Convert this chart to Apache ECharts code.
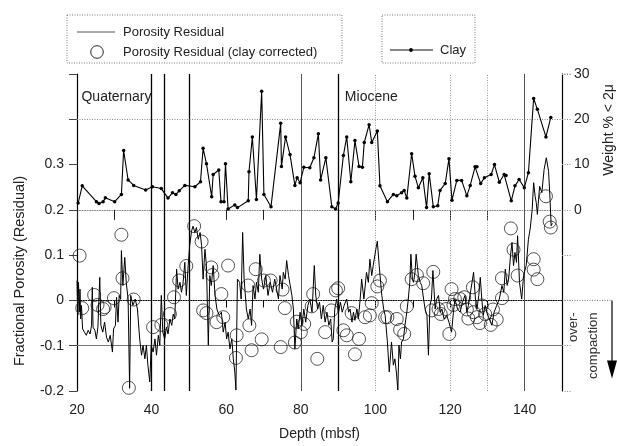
<!DOCTYPE html>
<html>
<head>
<meta charset="utf-8">
<script src="https://cdn.jsdelivr.net/npm/echarts@6/dist/echarts.min.js"></script>
<style>
html,body{margin:0;padding:0;background:#fff;}
#chart{width:617px;height:446px;}
</style>
</head>
<body>
<div id="chart"></div>
<script>
// ---- data (depth in mbsf) ----
const xTicks = [20, 40, 60, 80, 100, 120, 140];
const leftTicks = [-0.2, -0.1, 0, 0.1, 0.2, 0.3];
const rightTicks = [0, 10, 20, 30];
const boundaryDepths = [40, 43.3, 50, 90];
const greyDepths = [80, 140];
const dottedDepths = [100, 120, 130];
const gridLevels = [0.4, 0];
const solidLevels = [-0.1];
const seriesNames = ['Porosity Residual', 'Porosity Residual (clay corrected)', 'Clay'];

const porosityResidual = [
[20.0,0.044],[20.2,-0.033],[20.4,0.04],[20.6,-0.026],[20.8,0.025],[21.0,-0.041],[21.2,-0.011],[21.5,-0.063],
[22.0,-0.07],[22.5,-0.077],[23.0,-0.066],[23.5,-0.074],[23.9,-0.055],[24.1,0.029],[24.3,-0.059],[24.8,-0.066],
[25.2,-0.085],[25.6,-0.059],[26.1,0.051],[26.4,-0.055],[26.9,-0.07],[27.4,-0.048],[27.9,-0.081],[28.4,-0.092],
[28.9,-0.077],[29.5,-0.114],[29.8,-0.063],[30.3,-0.055],[30.6,0.007],[31.0,-0.048],[31.3,0.011],[31.7,0.003],
[31.9,0.11],[32.3,0.033],[32.8,0.095],[33.2,0.04],[33.7,0.003],[34.1,-0.194],[34.4,0.011],[35.0,-0.011],
[35.6,0.003],[36.2,-0.019],[36.8,-0.085],[37.3,-0.121],[37.7,-0.099],[38.2,-0.129],[38.6,-0.099],[39.0,-0.143],
[39.5,-0.18],[39.9,-0.099],[40.4,-0.114],[40.9,-0.085],[41.3,-0.121],[41.8,-0.077],[42.2,-0.099],[42.6,0.011],
[43.0,-0.07],[43.5,-0.085],[44.0,-0.059],[44.4,-0.074],[44.9,-0.041],[45.4,-0.055],[45.8,-0.03],[46.2,-0.041],
[46.7,0.069],[47.1,0.025],[47.6,0.04],[48.0,0.018],[48.4,0.036],[48.9,0.084],[49.3,0.011],[49.8,0.077],
[50.2,0.121],[50.7,0.153],[51.1,0.164],[51.6,0.15],[52.0,0.161],[52.5,0.135],[53.0,0.15],[53.4,0.121],
[53.8,0.047],[54.3,0.113],[54.7,0.077],[55.2,-0.099],[55.6,0.055],[56.0,0.033],[56.5,0.077],[57.0,0.011],
[57.5,-0.019],[58.1,-0.033],[58.7,-0.026],[59.2,-0.07],[59.7,-0.048],[60.1,-0.085],[60.5,-0.07],[61.0,-0.107],
[61.5,-0.085],[61.9,-0.129],[62.3,-0.158],[62.6,-0.198],[63.0,0.047],[63.6,0.04],[64.0,0.003],[64.4,0.15],
[64.8,0.047],[65.4,-0.019],[65.9,-0.041],[66.4,-0.019],[66.8,-0.055],[67.2,0.033],[67.7,0.003],[68.1,0.04],
[68.6,0.018],[69.0,0.102],[69.5,0.047],[70.0,0.025],[70.6,0.055],[71.2,0.011],[71.8,0.04],[72.4,0.018],
[73.0,0.047],[73.5,0.025],[74.0,0.003],[74.4,0.055],[75.0,0.025],[75.3,0.062],[75.8,0.047],[76.2,0.088],
[76.7,0.055],[77.1,0.055],[77.6,0.011],[78.0,-0.019],[78.4,-0.107],[78.9,-0.041],[79.3,-0.063],[79.8,-0.026],
[80.3,-0.055],[80.8,-0.019],[81.3,-0.048],[81.9,-0.011],[82.4,0.003],[83.0,-0.026],[83.6,0.077],[84.0,0.011],
[84.5,-0.019],[85.0,-0.004],[85.5,-0.041],[86.0,-0.011],[86.5,-0.048],[87.0,-0.026],[87.5,-0.055],[88.0,-0.041],
[88.4,-0.092],[88.7,-0.085],[89.1,-0.019],[89.6,0.003],[90.1,-0.026],[90.6,-0.004],[91.1,-0.026],[91.6,-0.011],
[92.3,0.003],[92.8,-0.026],[93.2,-0.019],[93.7,-0.048],[94.1,-0.026],[94.5,-0.044],[95.0,-0.019],[95.4,-0.041],
[95.9,0.003],[96.3,0.047],[96.9,0.003],[97.6,0.062],[98.1,0.04],[98.5,0.091],[99.0,0.055],[99.4,0.077],
[100.1,0.113],[100.5,0.131],[101.0,0.077],[101.7,0.011],[102.2,-0.019],[102.6,-0.033],[103.2,-0.092],[103.7,-0.158],
[104.3,-0.092],[104.8,-0.143],[105.2,-0.129],[105.6,-0.158],[106.0,-0.198],[106.3,-0.099],[106.7,-0.129],[107.0,-0.092],
[107.5,-0.085],[107.9,-0.055],[108.4,-0.026],[108.8,0.003],[109.2,0.04],[109.5,0.102],[109.9,0.047],[110.2,0.04],
[110.6,0.062],[110.9,0.102],[111.5,0.055],[112.0,0.04],[112.4,0.033],[112.9,0.003],[113.3,-0.019],[113.8,-0.033],
[114.2,-0.121],[114.6,-0.011],[115.0,0.003],[115.4,0.066],[116.0,-0.019],[116.4,0.003],[116.9,0.011],[117.4,-0.026],
[117.8,-0.019],[118.4,-0.041],[119.1,-0.033],[119.7,-0.048],[120.4,-0.07],[120.9,-0.026],[121.3,0.003],[122.0,-0.019],
[122.7,-0.026],[123.3,-0.004],[124.0,0.011],[124.5,-0.026],[124.9,-0.011],[125.6,0.025],[126.3,0.062],[126.8,0.003],
[127.2,-0.019],[127.7,0.011],[128.1,0.051],[128.5,0.003],[128.9,-0.033],[129.4,-0.011],[129.8,-0.026],[130.5,-0.041],
[131.2,-0.055],[131.8,-0.026],[132.5,-0.011],[133.2,0.003],[133.9,0.033],[134.4,0.018],[134.8,0.069],[135.3,0.033],
[135.7,0.047],[136.2,0.099],[136.6,0.128],[137.0,0.077],[137.4,0.106],[137.8,0.084],[138.1,0.143],[138.6,0.04],
[139.2,0.003],[139.7,0.055],[140.4,0.077],[141.0,0.135],[141.5,0.16],[142.0,0.2],[142.4,0.26],[142.8,0.23],
[143.1,0.216],[143.4,0.19],[144.0,0.252],[144.6,0.238],[145.2,0.289],[145.8,0.315],[146.4,0.285],[146.8,0.223],
[147.1,0.165],[147.4,0.17]
];

const porosityCorrected = [
[20.7,0.099],[21.4,-0.017],[24.6,0.012],[25.5,-0.01],[27.0,-0.019],[27.4,-0.015],[29.9,0.005],[31.9,0.145],
[32.2,0.049],[33.9,-0.193],[35.2,0.002],[40.4,-0.059],[42.6,-0.054],[44.9,-0.03],[46.0,0.007],[47.4,0.044],
[49.3,0.076],[51.4,0.164],[53.4,0.13],[53.8,-0.022],[54.7,-0.028],[56.0,0.073],[56.3,0.056],[57.4,-0.048],
[58.7,0.014],[59.2,-0.037],[60.5,0.077],[62.6,-0.127],[62.8,-0.077],[65.9,0.033],[66.2,-0.055],[66.8,-0.11],
[67.9,0.069],[69.5,-0.086],[70.1,0.044],[71.9,0.044],[74.6,-0.103],[75.1,0.024],[75.7,-0.017],[78.4,-0.093],
[78.9,-0.047],[80.0,-0.07],[80.9,-0.052],[82.9,-0.013],[83.3,0.014],[84.4,-0.129],[86.5,-0.07],[88.2,-0.022],
[89.4,0.022],[90.0,0.027],[91.4,-0.066],[92.3,-0.077],[93.6,-0.028],[94.5,-0.119],[95.6,-0.085],[97.2,-0.037],
[98.5,-0.033],[99.0,-0.006],[100.5,0.031],[101.2,0.044],[102.6,-0.037],[103.2,-0.037],[105.7,-0.041],[106.6,-0.065],
[107.7,-0.074],[108.4,-0.013],[109.7,0.047],[111.1,0.056],[112.8,0.038],[115.5,0.063],[115.1,-0.022],[116.9,-0.019],
[117.5,-0.03],[118.9,-0.019],[119.8,-0.074],[120.4,0.025],[120.9,-0.01],[121.3,0.003],[122.7,0.003],[123.8,0.007],
[124.5,-0.02],[124.9,-0.04],[126.1,0.029],[126.3,-0.026],[127.2,-0.037],[128.0,-0.05],[128.5,-0.011],[129.4,-0.03],
[130.9,-0.054],[131.5,-0.02],[132.5,-0.042],[133.9,0.005],[133.9,0.049],[136.3,0.159],[137.0,0.112],[138.1,0.055],
[142.4,0.091],[142.4,0.068],[143.4,0.047],[145.7,0.23],[146.7,0.174],[147.0,0.161]
];

const clay = [
[20.3,1.5],[21.4,5.3],[25.2,1.8],[25.9,1.4],[27.0,1.8],[27.6,2.7],[30.1,1.8],[31.9,3.4],
[32.5,13.1],[33.7,6.6],[35.2,5.4],[38.4,4.4],[40.2,5.1],[42.6,4.7],[44.4,2.6],[45.6,3.8],
[46.5,3.4],[47.4,4.2],[48.9,5.4],[51.6,5.1],[53.1,6.2],[53.8,13.6],[54.7,10.2],[56.1,2.9],
[56.5,7.8],[58.0,8.8],[58.6,1.8],[59.4,1.8],[59.8,10.2],[60.5,0.2],[62.3,1.1],[63.0,0.5],
[65.9,2.0],[66.1,8.4],[67.0,16.1],[68.1,2.3],[69.5,26.2],[70.1,3.4],[72.0,0.7],[74.6,19.1],
[74.8,9.6],[75.9,16.1],[77.1,12.2],[78.4,5.4],[79.0,7.1],[79.8,6.0],[80.8,9.4],[82.4,9.3],
[83.5,11.5],[84.7,16.8],[85.3,6.6],[86.7,11.5],[88.3,0.7],[89.3,0.2],[90.0,1.5],[91.4,12.0],
[92.3,16.1],[93.4,6.2],[94.5,15.3],[95.6,9.6],[96.5,9.4],[97.0,14.9],[98.3,18.8],[99.0,14.9],
[100.5,17.4],[101.2,5.3],[103.2,1.8],[104.8,3.4],[105.7,3.1],[107.0,3.8],[107.7,4.3],[108.4,2.6],
[109.7,12.4],[110.6,7.4],[111.5,4.9],[112.7,7.1],[113.7,0.5],[114.4,8.0],[115.5,0.7],[116.7,0.9],
[117.3,4.3],[118.7,5.8],[119.7,11.3],[120.5,2.1],[121.8,6.5],[123.1,6.5],[124.5,3.1],[125.4,5.4],
[126.7,9.5],[127.2,9.5],[128.2,5.8],[129.2,7.1],[131.0,7.8],[131.9,10.0],[133.2,6.1],[134.5,7.8],
[135.0,7.6],[136.4,2.0],[137.4,5.3],[138.5,6.7],[139.9,4.9],[141.0,8.2],[142.4,24.6],[143.4,22.2],
[145.7,16.1],[147.0,20.4]
];

// ---- chart ----
const FONT = '"Liberation Sans", Arial, Helvetica, sans-serif';
const chart = echarts.init(document.getElementById('chart'), null, {renderer: 'canvas'});

function mlLine(val, key, style) {
  return val.map(v => ({ [key]: v, lineStyle: style }));
}

const markData = []
  .concat(mlLine(boundaryDepths, 'xAxis', {color: '#000', width: 1.3, type: 'solid'}))
  .concat(mlLine(greyDepths, 'xAxis', {color: '#555', width: 1, type: 'solid'}))
  .concat(mlLine(dottedDepths, 'xAxis', {color: '#999', width: 1, type: [1, 1.5]}))
  .concat(mlLine(gridLevels, 'yAxis', {color: '#888', width: 1, type: [1, 1.5]}))
  .concat(mlLine(solidLevels, 'yAxis', {color: '#777', width: 1, type: 'solid'}));

const option = {
  animation: false,
  backgroundColor: '#fff',
  textStyle: {fontFamily: FONT},
  grid: {left: 77, right: 55, top: 74, bottom: 54, containLabel: false},
  xAxis: [
    {
      type: 'value', min: 20, max: 150, interval: 10, position: 'bottom',
      name: 'Depth (mbsf)', nameLocation: 'middle', nameGap: 36,
      nameTextStyle: {fontFamily: FONT, fontSize: 14, color: '#222'},
      axisLine: {lineStyle: {color: '#000', width: 1.2}},
      axisTick: {show: true, length: 7, lineStyle: {color: '#000'}},
      axisLabel: {
        margin: 12, fontSize: 14, color: '#222', fontFamily: FONT,
        formatter: v => (xTicks.indexOf(v) >= 0 ? String(v) : '')
      },
      splitLine: {show: false}
    },
    {
      type: 'value', min: 20, max: 150, interval: 10, position: 'top',
      axisLine: {show: true, lineStyle: {color: '#888', width: 1, type: [1, 1.5]}},
      axisTick: {show: true, inside: true, length: 10, lineStyle: {color: '#222'}},
      axisLabel: {show: false},
      splitLine: {show: false}
    }
  ],
  yAxis: [
    {
      type: 'value', min: -0.2, max: 0.5, interval: 0.1, position: 'left',
      axisLine: {show: true, lineStyle: {color: '#000', width: 1.2}},
      axisTick: {show: true, length: 8, lineStyle: {color: '#444'}},
      axisLabel: {
        margin: 13, fontSize: 14, color: '#222', fontFamily: FONT,
        formatter: v => {
          const r = Math.round(v * 10) / 10;
          return leftTicks.indexOf(r) >= 0 ? String(r) : '';
        }
      },
      splitLine: {show: false}
    },
    {
      type: 'value', min: -40, max: 30, interval: 10, position: 'right',
      axisLine: {show: true, lineStyle: {color: '#000', width: 1.2}},
      axisTick: {show: true, length: 9, lineStyle: {color: '#888', type: [1, 1.5]}},
      axisLabel: {
        margin: 12, fontSize: 14, color: '#222', fontFamily: FONT,
        formatter: v => (rightTicks.indexOf(v) >= 0 ? String(v) : '')
      },
      splitLine: {show: false}
    }
  ],
  series: [
    {
      name: seriesNames[0], type: 'line', xAxisIndex: 0, yAxisIndex: 0,
      data: porosityResidual, symbol: 'none', color: '#000',
      lineStyle: {color: '#000', width: 1}, z: 3,
      markLine: {silent: true, symbol: ['none', 'none'], label: {show: false}, data: markData, z: 1}
    },
    {
      name: seriesNames[1], type: 'scatter', xAxisIndex: 0, yAxisIndex: 0,
      data: porosityCorrected, symbol: 'circle', symbolSize: 13,
      itemStyle: {color: 'rgba(255,255,255,0)', borderColor: '#111', borderWidth: 0.9}, z: 4
    },
    {
      name: seriesNames[2], type: 'line', xAxisIndex: 0, yAxisIndex: 1,
      data: clay, symbol: 'circle', symbolSize: 3.5, showSymbol: true, color: '#000',
      itemStyle: {color: '#000'}, lineStyle: {color: '#000', width: 1.1}, z: 5
    }
  ]
};
chart.setOption(option);

// annotations positioned from axis scales
const p0 = chart.convertToPixel({xAxisIndex: 0, yAxisIndex: 0}, [150, 0]);
const pQ = chart.convertToPixel({xAxisIndex: 0, yAxisIndex: 0}, [21.2, 0.45]);
const pM = chart.convertToPixel({xAxisIndex: 0, yAxisIndex: 0}, [91.8, 0.45]);
const pTop = chart.convertToPixel({xAxisIndex: 0, yAxisIndex: 0}, [150, 0.5]);
const arrowX = p0[0] + 50;
const arrowTip = p0[1] + 78;
const legendFont = '13px ' + FONT;

chart.setOption({
  graphic: [
    // legend boxes
    {type: 'rect', shape: {x: 67, y: 15, width: 275, height: 48},
     style: {fill: 'none', stroke: '#777', lineWidth: 1, lineDash: [1, 1.5]}},
    {type: 'rect', shape: {x: 382, y: 15, width: 93, height: 48},
     style: {fill: 'none', stroke: '#777', lineWidth: 1, lineDash: [1, 1.5]}},
    // legend entries
    {type: 'line', shape: {x1: 77, y1: 32, x2: 115, y2: 32}, style: {stroke: '#555', lineWidth: 1}},
    {type: 'text', x: 123, y: 32, style: {text: seriesNames[0], font: legendFont, fill: '#222', textVerticalAlign: 'middle'}},
    {type: 'circle', shape: {cx: 97, cy: 52, r: 6.3}, style: {fill: 'none', stroke: '#111', lineWidth: 0.9}},
    {type: 'text', x: 123, y: 52, style: {text: seriesNames[1], font: legendFont, fill: '#222', textVerticalAlign: 'middle'}},
    {type: 'line', shape: {x1: 390, y1: 50, x2: 433, y2: 50}, style: {stroke: '#111', lineWidth: 1.1}},
    {type: 'circle', shape: {cx: 411, cy: 50, r: 1.9}, style: {fill: '#000'}},
    {type: 'text', x: 440, y: 50, style: {text: seriesNames[2], font: legendFont, fill: '#222', textVerticalAlign: 'middle'}},
    // annotations
    {type: 'text', x: pQ[0], y: pQ[1], style: {text: 'Quaternary', font: '14px ' + FONT, fill: '#222', textVerticalAlign: 'middle'}},
    {type: 'text', x: pM[0], y: pM[1], style: {text: 'Miocene', font: '14px ' + FONT, fill: '#222', textVerticalAlign: 'middle'}},
    {type: 'text', x: 20, y: 271, rotation: Math.PI / 2,
     style: {text: 'Fractional Porosity (Residual)', font: '14.5px ' + FONT, fill: '#222', textAlign: 'center', textVerticalAlign: 'middle'}},
    {type: 'text', x: 609, y: 130, rotation: Math.PI / 2,
     style: {text: 'Weight % < 2\u03bc', font: '14px ' + FONT, fill: '#222', textAlign: 'center', textVerticalAlign: 'middle'}},
    {type: 'line', shape: {x1: p0[0], y1: p0[1], x2: arrowX, y2: p0[1]},
     style: {stroke: '#777', lineWidth: 1, lineDash: [1, 1.5]}},
    {type: 'line', shape: {x1: arrowX, y1: p0[1], x2: arrowX, y2: arrowTip - 8},
     style: {stroke: '#000', lineWidth: 1.2}},
    {type: 'polygon', shape: {points: [[arrowX - 5, arrowTip - 18], [arrowX + 5, arrowTip - 18], [arrowX, arrowTip]]},
     style: {fill: '#000'}},
    {type: 'text', x: p0[0] + 11, y: p0[1] + 12, rotation: Math.PI / 2,
     style: {text: 'over-', font: '13px ' + FONT, fill: '#333', textAlign: 'right', textVerticalAlign: 'middle'}},
    {type: 'text', x: p0[0] + 31, y: p0[1] + 12, rotation: Math.PI / 2,
     style: {text: 'compaction', font: '13px ' + FONT, fill: '#333', textAlign: 'right', textVerticalAlign: 'middle'}},
    {type: 'line', shape: {x1: pTop[0], y1: pTop[1], x2: pTop[0] + 10, y2: pTop[1]},
     style: {stroke: '#888', lineWidth: 1, lineDash: [1, 1.5]}}
  ]
});
</script>
</body>
</html>
